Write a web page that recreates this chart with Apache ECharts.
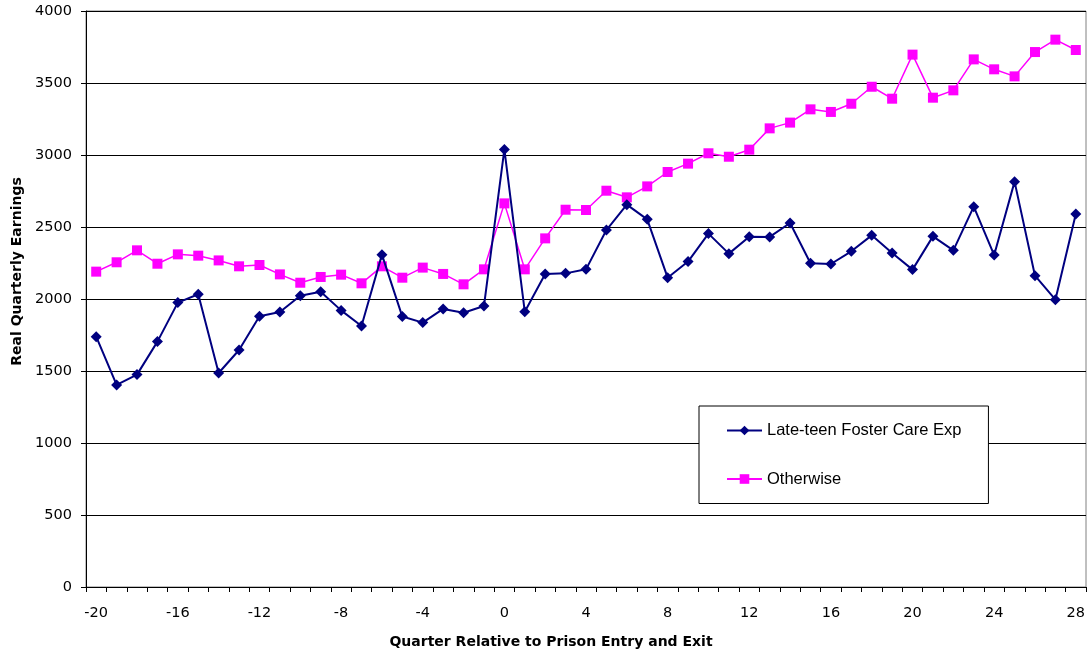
<!DOCTYPE html>
<html>
<head>
<meta charset="utf-8">
<script src="https://cdn.jsdelivr.net/npm/echarts@6/dist/echarts.min.js"></script>
<style>html,body{margin:0;padding:0;background:#fff;}#c{width:1091px;height:656px;}</style>
</head>
<body>
<div id="c"></div>
<script>
var quarters = [-20,-19,-18,-17,-16,-15,-14,-13,-12,-11,-10,-9,-8,-7,-6,-5,-4,-3,-2,-1,0,1,2,3,4,5,6,7,8,9,10,11,12,13,14,15,16,17,18,19,20,21,22,23,24,25,26,27,28];
var fosterCare = [1738,1403,1475,1704,1975,2033,1486,1646,1880,1910,2023,2051,1921,1813,2308,1878,1836,1931,1905,1951,3039,1912,2174,2178,2206,2479,2655,2553,2148,2260,2454,2315,2433,2431,2528,2248,2243,2331,2442,2319,2204,2435,2338,2641,2305,2815,2162,1995,2590];
var otherwise = [2190,2255,2338,2245,2310,2301,2268,2227,2236,2171,2113,2153,2169,2109,2227,2148,2218,2174,2102,2206,2664,2206,2421,2620,2618,2752,2706,2782,2882,2940,3012,2988,3037,3185,3225,3317,3299,3356,3474,3391,3697,3398,3449,3664,3595,3546,3715,3801,3729];
var seriesNames = ['Late-teen Foster Care Exp', 'Otherwise'];
var xTitle = 'Quarter Relative to Prison Entry and Exit';
var yTitle = 'Real Quarterly Earnings';

var legendFont = 'Arial, "Liberation Sans", sans-serif';
var axisFont = '"DejaVu Sans", Arial, sans-serif';
var chart = echarts.init(document.getElementById('c'), null, {renderer: 'canvas'});
chart.setOption({
  animation: false,
  backgroundColor: '#fff',
  grid: {left: 86, right: 5, top: 11, bottom: 69, outerBoundsMode: 'none', containLabel: false,
         show: true, borderColor: '#808080', borderWidth: 1, backgroundColor: 'transparent'},
  legend: {
    left: 699, top: 406, orient: 'vertical',
    backgroundColor: '#fff',
    borderColor: '#000', borderWidth: 1,
    padding: [16, 27, 16, 27],
    itemGap: 31.5, itemWidth: 35, itemHeight: 12,
    textStyle: {fontFamily: legendFont, fontSize: 16.5, color: '#000'},
    data: seriesNames
  },
  xAxis: {
    type: 'category', data: quarters.map(String), boundaryGap: true,
    name: xTitle, nameLocation: 'middle', nameGap: 48,
    nameTextStyle: {fontFamily: axisFont, fontSize: 14, fontWeight: 'bold', color: '#000', padding: [0, 70, 0, 0]},
    axisLine: {lineStyle: {color: '#000', width: 1}},
    axisTick: {show: true, interval: 0, length: 5, inside: false, lineStyle: {color: '#000'}},
    axisLabel: {interval: 3, margin: 19, fontFamily: axisFont, fontSize: 14.5, color: '#000'},
    splitLine: {show: false}
  },
  yAxis: {
    type: 'value', min: 0, max: 4000, interval: 500,
    name: yTitle, nameLocation: 'middle', nameGap: 62,
    nameTextStyle: {fontFamily: axisFont, fontSize: 14, fontWeight: 'bold', color: '#000', padding: [0, 0, 0, 55]},
    axisLine: {show: true, lineStyle: {color: '#000', width: 1}},
    axisTick: {show: true, length: 5, inside: false, lineStyle: {color: '#000'}},
    axisLabel: {margin: 14, fontFamily: axisFont, fontSize: 14.5, color: '#000', formatter: function (v) { return String(v); }},
    splitLine: {show: true, lineStyle: {color: '#000', width: 1}}
  },
  series: [
    {
      name: seriesNames[0], type: 'line', data: fosterCare,
      symbol: 'diamond', symbolSize: 11,
      lineStyle: {color: '#000080', width: 2},
      itemStyle: {color: '#000080'},
      z: 3
    },
    {
      name: seriesNames[1], type: 'line', data: otherwise,
      symbol: 'rect', symbolSize: 10,
      lineStyle: {color: '#FF00FF', width: 1.5},
      itemStyle: {color: '#FF00FF'},
      z: 2
    }
  ]
});
</script>
</body>
</html>
